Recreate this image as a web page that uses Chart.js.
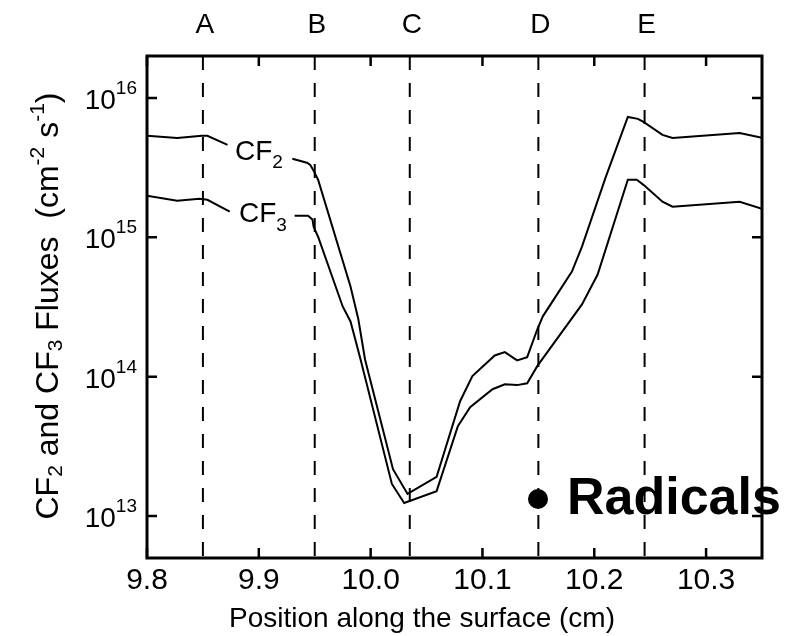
<!DOCTYPE html>
<html>
<head>
<meta charset="utf-8">
<title>CF2 and CF3 fluxes</title>
<script src="https://cdn.jsdelivr.net/npm/chart.js@4.4.1/dist/chart.umd.min.js"></script>
<style>
  html, body { margin: 0; padding: 0; background: #ffffff; }
  #fluxChart { display: block; }
</style>
</head>
<body>
<canvas id="fluxChart" width="786" height="636"></canvas>
<script>
// positions along the surface (cm) and fluxes (cm^-2 s^-1)
const positionCF2 = [9.800, 9.827, 9.849, 9.854, 9.872, 9.930, 9.943, 9.946, 9.950, 9.953,
  9.982, 9.989, 9.995, 10.020, 10.033, 10.059, 10.080, 10.091, 10.111, 10.120,
  10.131, 10.140, 10.149, 10.154, 10.180, 10.189, 10.210, 10.230, 10.239, 10.244,
  10.261, 10.270, 10.330, 10.350];
const fluxCF2 = [5.35e15, 5.17e15, 5.35e15, 5.35e15, 4.61e15, 3.66e15, 3.43e15, 3.31e15, 2.90e15, 2.59e15,
  4.44e14, 2.58e14, 1.33e14, 2.17e13, 1.44e13, 1.91e13, 6.67e13, 1.01e14, 1.42e14, 1.50e14,
  1.31e14, 1.38e14, 2.18e14, 2.71e14, 5.68e14, 8.58e14, 2.67e15, 7.31e15, 7.08e15, 6.73e15,
  5.43e15, 5.17e15, 5.61e15, 5.17e15];

const positionCF3 = [9.800, 9.827, 9.847, 9.854, 9.874, 9.932, 9.944, 9.948, 9.949, 9.953,
  9.975, 9.982, 9.991, 10.019, 10.030, 10.059, 10.078, 10.089, 10.109, 10.120,
  10.131, 10.140, 10.149, 10.189, 10.203, 10.230, 10.238, 10.244, 10.261, 10.270,
  10.330, 10.350];
const fluxCF3 = [1.99e15, 1.83e15, 1.89e15, 1.86e15, 1.53e15, 1.43e15, 1.43e15, 1.34e15, 1.19e15, 1.01e15,
  3.19e14, 2.49e14, 1.33e14, 1.70e13, 1.24e13, 1.51e13, 4.42e13, 6.04e13, 8.13e13, 8.83e13,
  8.70e13, 8.97e13, 1.19e14, 3.30e14, 5.41e14, 2.59e15, 2.59e15, 2.38e15, 1.80e15, 1.66e15,
  1.80e15, 1.60e15];

// the segment hidden behind each curve label (index of its first point)
const labelGapCF2 = 4;
const labelGapCF3 = 4;

// marked positions A..E
const markerPositions = [9.85, 9.95, 10.035, 10.15, 10.245];
const markerLabels = ['A', 'B', 'C', 'D', 'E'];

// axes
const xMin = 9.8, xMax = 10.35;
const yMin = 5e12, yMax = 2e16;
const xTickValues = [9.8, 9.9, 10.0, 10.1, 10.2, 10.3];
const xTickLabels = ['9.8', '9.9', '10.0', '10.1', '10.2', '10.3'];
const yTickValues = [1e13, 1e14, 1e15, 1e16];
const yTickExponents = ['13', '14', '15', '16'];

const FONT = '"Liberation Sans", Arial, Helvetica, sans-serif';

const toPoints = (xs, ys) => xs.map((x, i) => ({ x: x, y: ys[i] }));

const curve = (xs, ys, gap) => ({
  data: toPoints(xs, ys),
  showLine: true,
  borderColor: '#000',
  borderWidth: 2,
  pointRadius: 0,
  tension: 0,
  segment: {
    borderColor: ctx => (ctx.p0DataIndex === gap ? 'rgba(0,0,0,0)' : '#000'),
  },
});

const markerLines = markerPositions.map(x => ({
  data: [{ x: x, y: yMax }, { x: x, y: yMin }],
  showLine: true,
  borderColor: '#000',
  borderWidth: 2,
  borderDash: [14, 13],
  pointRadius: 0,
}));

// draw a run of text pieces (normal / sub / superscript) starting at x
function drawRuns(ctx, runs, x, y) {
  runs.forEach(r => {
    ctx.font = r.size + 'px ' + FONT;
    ctx.fillText(r.text, x, y + (r.dy || 0));
    x += ctx.measureText(r.text).width;
  });
}
function runsWidth(ctx, runs) {
  let w = 0;
  runs.forEach(r => {
    ctx.font = r.size + 'px ' + FONT;
    w += ctx.measureText(r.text).width;
  });
  return w;
}

const framePlugin = {
  id: 'frame',
  afterDatasetsDraw(chart) {
    const ctx = chart.ctx;
    const xs = chart.scales.x, ys = chart.scales.y;
    const a = chart.chartArea;
    ctx.save();
    ctx.fillStyle = '#000';
    ctx.strokeStyle = '#000';

    // box
    ctx.lineWidth = 3;
    ctx.strokeRect(a.left, a.top, a.right - a.left, a.bottom - a.top);

    // inward ticks
    ctx.lineWidth = 2.5;
    ctx.beginPath();
    xTickValues.forEach(v => {
      const px = xs.getPixelForValue(v);
      ctx.moveTo(px, a.bottom); ctx.lineTo(px, a.bottom - 10);
      ctx.moveTo(px, a.top); ctx.lineTo(px, a.top + 10);
    });
    yTickValues.forEach(v => {
      const py = ys.getPixelForValue(v);
      ctx.moveTo(a.left, py); ctx.lineTo(a.left + 10, py);
      ctx.moveTo(a.right, py); ctx.lineTo(a.right - 10, py);
    });
    ctx.stroke();

    // x tick labels
    ctx.font = '30px ' + FONT;
    ctx.textAlign = 'center';
    ctx.textBaseline = 'alphabetic';
    xTickValues.forEach((v, i) => {
      ctx.fillText(xTickLabels[i], xs.getPixelForValue(v), a.bottom + 31);
    });

    // y tick labels: 10 with exponent
    ctx.textAlign = 'left';
    yTickValues.forEach((v, i) => {
      const py = ys.getPixelForValue(v);
      const runs = [
        { text: '10', size: 28, dy: 11 },
        { text: yTickExponents[i], size: 19, dy: -4 },
      ];
      drawRuns(ctx, runs, a.left - 10 - runsWidth(ctx, runs), py);
    });

    // x title
    ctx.font = '28px ' + FONT;
    ctx.textAlign = 'center';
    ctx.fillText('Position along the surface (cm)', 422, 627);

    // y title, rotated
    ctx.textAlign = 'left';
    const yTitle = [
      { text: 'CF', size: 32 },
      { text: '2', size: 21, dy: 4 },
      { text: ' and CF', size: 32 },
      { text: '3', size: 21, dy: 4 },
      { text: ' Fluxes  (cm', size: 32 },
      { text: '-2', size: 21, dy: -14 },
      { text: ' s', size: 32 },
      { text: '-1', size: 21, dy: -14 },
      { text: ')', size: 32 },
    ];
    ctx.save();
    ctx.translate(58, 306);
    ctx.rotate(-Math.PI / 2);
    drawRuns(ctx, yTitle, -runsWidth(ctx, yTitle) / 2, 0);
    ctx.restore();

    // marker letters above the frame
    ctx.font = '28px ' + FONT;
    ctx.textAlign = 'center';
    markerPositions.forEach((x, i) => {
      ctx.fillText(markerLabels[i], xs.getPixelForValue(x) + 2, 33);
    });

    // curve labels
    ctx.textAlign = 'left';
    drawRuns(ctx, [{ text: 'CF', size: 28 }, { text: '2', size: 19, dy: 8 }], 235, 160);
    drawRuns(ctx, [{ text: 'CF', size: 28 }, { text: '3', size: 19, dy: 9 }], 239, 222);

    // legend-like note
    ctx.beginPath();
    ctx.arc(538, 499, 10, 0, Math.PI * 2);
    ctx.fill();
    ctx.font = 'bold 52px ' + FONT;
    ctx.fillText('Radicals', 567, 514);

    ctx.restore();
  },
};

new Chart(document.getElementById('fluxChart'), {
  type: 'scatter',
  data: {
    datasets: [
      curve(positionCF2, fluxCF2, labelGapCF2),
      curve(positionCF3, fluxCF3, labelGapCF3),
      ...markerLines,
    ],
  },
  options: {
    responsive: false,
    animation: false,
    devicePixelRatio: 1,
    layout: { padding: { left: 147, top: 56, right: 24, bottom: 78 } },
    plugins: {
      legend: { display: false },
      tooltip: { enabled: false },
    },
    scales: {
      x: { type: 'linear', min: xMin, max: xMax, display: false },
      y: { type: 'logarithmic', min: yMin, max: yMax, display: false },
    },
  },
  plugins: [framePlugin],
});
</script>
</body>
</html>
